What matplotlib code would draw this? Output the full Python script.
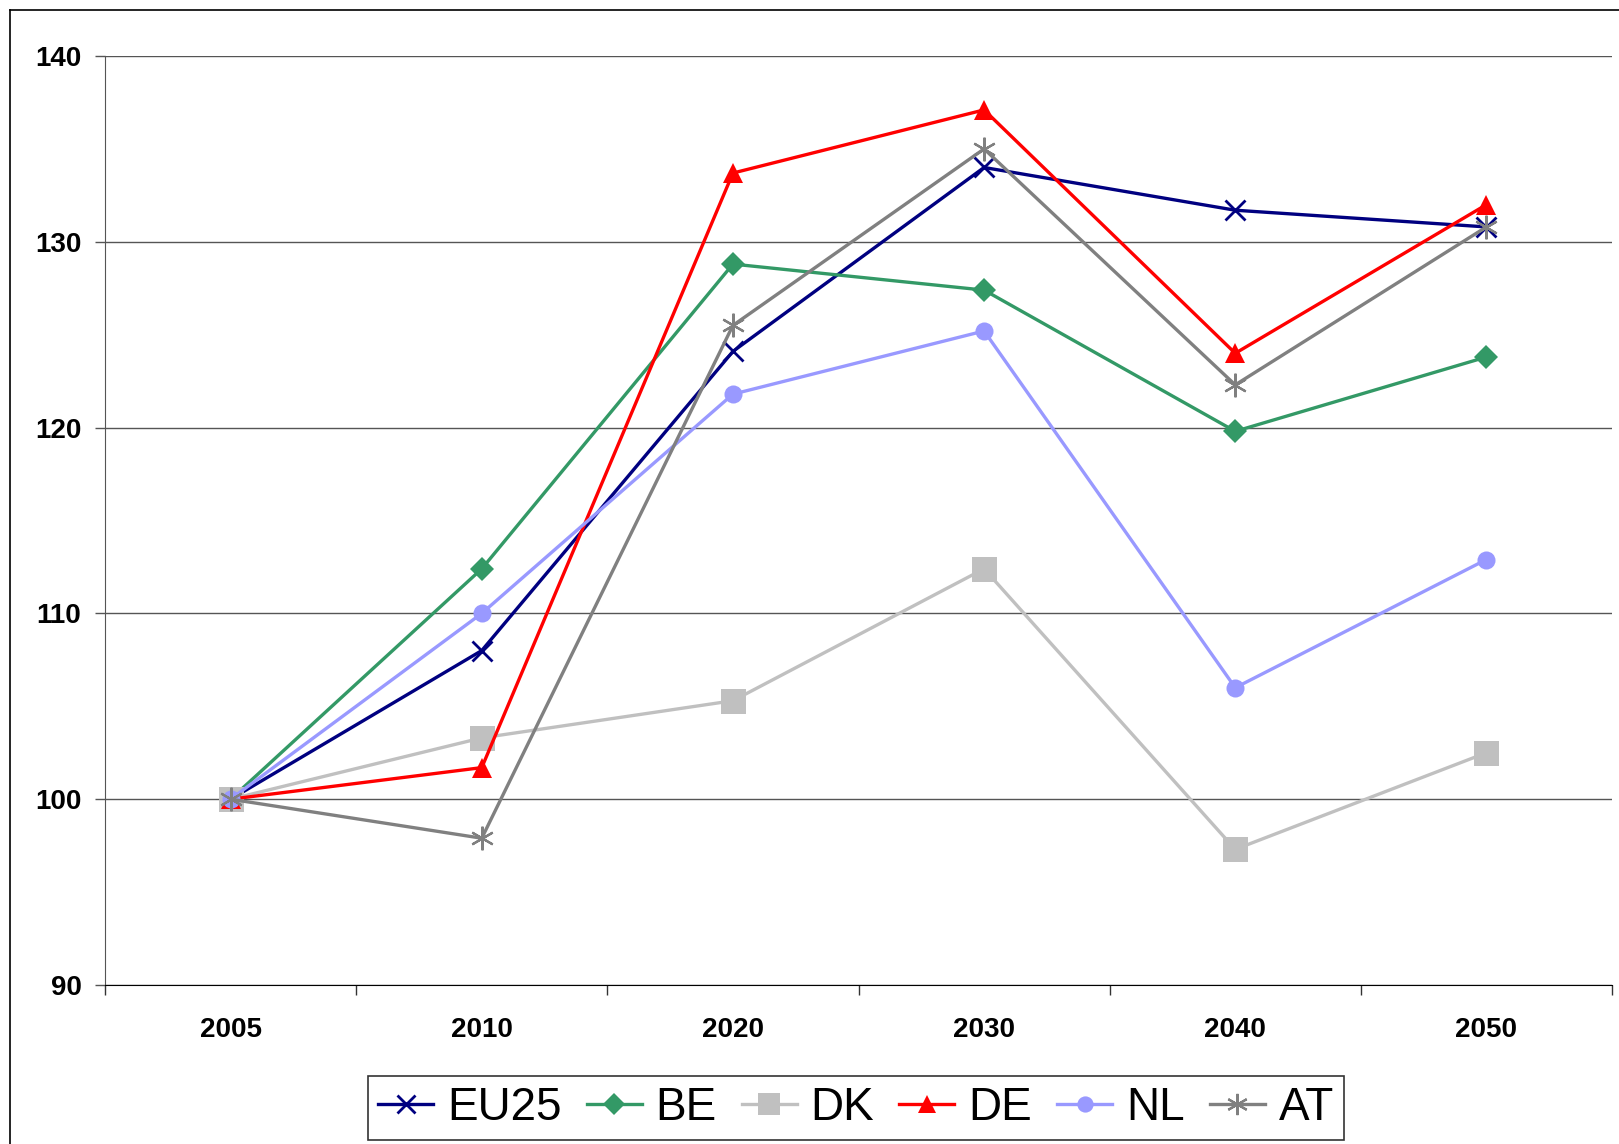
import matplotlib
matplotlib.use("Agg")
import matplotlib.pyplot as plt
from matplotlib.lines import Line2D

plt.rcParams["font.family"] = ["Liberation Sans", "DejaVu Sans"]

years = ["2005", "2010", "2020", "2030", "2040", "2050"]

eu25 = [100, 108.0, 124.1, 134.0, 131.7, 130.8]
be = [100, 112.4, 128.8, 127.4, 119.8, 123.8]
dk = [100, 103.3, 105.3, 112.4, 97.3, 102.5]
de = [100, 101.7, 133.7, 137.1, 124.0, 132.0]
nl = [100, 110.0, 121.8, 125.2, 106.0, 112.9]
at = [100, 97.9, 125.5, 135.0, 122.3, 130.8]

series = [
    ("EU25", eu25, "#000080", "x", 15, 2.0),
    ("BE", be, "#339966", "D", 12, 0),
    ("DK", dk, "#c0c0c0", "s", 18, 0),
    ("DE", de, "#ff0000", "^", 15, 0),
    ("NL", nl, "#9999ff", "o", 13, 0),
    ("AT", at, "#808080", (6, 2, 0), 17, 1.6),
]

W, H = 1619, 1144
fig = plt.figure(figsize=(W / 100, H / 100), dpi=100)
ax = fig.add_axes([105 / W, 1 - 985 / H, (1612 - 105) / W, (985 - 56) / H])

x = list(range(len(years)))
for name, vals, col, mk, ms, mew in series:
    ax.plot(x, vals, color=col, lw=2.4, marker=mk, markersize=ms,
            markerfacecolor=col, markeredgecolor=col, markeredgewidth=mew,
            label=name)

ax.set_xlim(-0.5, 5.5)
ax.set_ylim(90, 140)
ax.set_yticks([90, 100, 110, 120, 130, 140])
ax.yaxis.grid(True, color="#555555", lw=1)
ax.set_axisbelow(True)

# category boundaries get the tick marks, labels sit in the middle
ax.set_xticks([i - 0.5 for i in range(len(years) + 1)])
ax.set_xticklabels([])
ax.set_xticks(x, minor=True)
ax.set_xticklabels(years, minor=True, fontsize=20, fontweight="bold")
ax.tick_params(axis="x", which="major", length=7, width=1, color="#333333")
ax.tick_params(axis="x", which="minor", length=0, pad=23)
ax.tick_params(axis="y", length=7, width=1, color="#555555", pad=10)
for lab in ax.get_yticklabels():
    lab.set_fontsize(20)
    lab.set_fontweight("bold")

ax.spines["top"].set_visible(False)
ax.spines["right"].set_visible(False)
ax.spines["left"].set_color("#555555")
ax.spines["bottom"].set_color("#000000")

# outer chart frame (left and top edges)
fig.add_artist(Line2D([10 / W, 10 / W], [0, 1 - 10 / H], transform=fig.transFigure, color="black", lw=1.2))
fig.add_artist(Line2D([10 / W, 1], [1 - 10 / H, 1 - 10 / H], transform=fig.transFigure, color="black", lw=1.2))

leg = fig.legend(loc="center", bbox_to_anchor=(856 / W, 1 - 1108 / H), ncol=6,
                 fontsize=33, frameon=True, fancybox=False, edgecolor="black",
                 handlelength=1.2, handletextpad=0.3, columnspacing=0.55,
                 borderpad=0.22, borderaxespad=0, markerscale=0.9)
leg.get_frame().set_linewidth(1.2)

fig.savefig("out.png", dpi=100)
